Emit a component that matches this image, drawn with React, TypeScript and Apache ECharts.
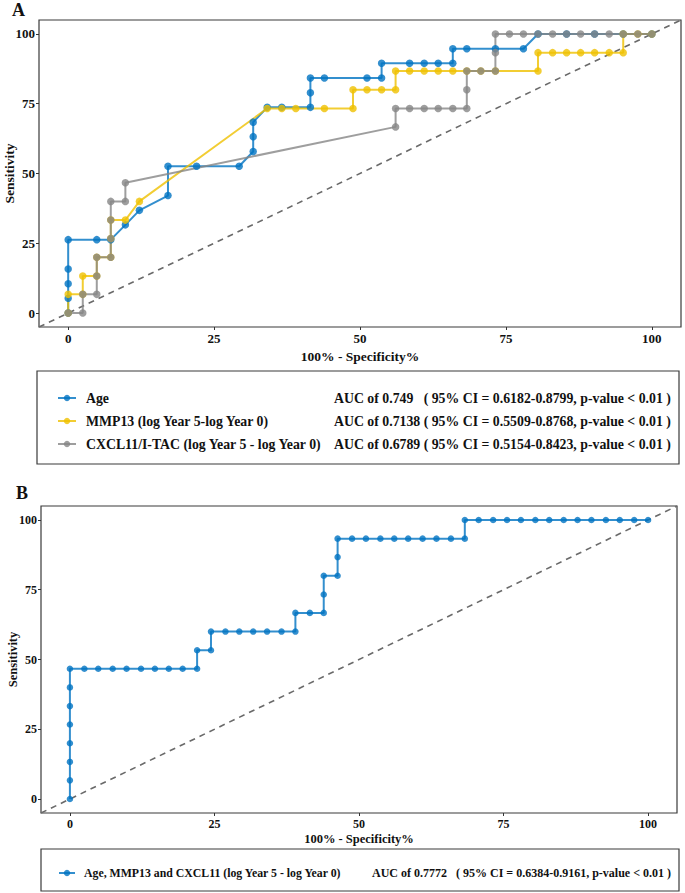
import React, { useEffect, useRef } from "react";
import * as echarts from "echarts";

// ---- Panel A data (100% - Specificity%, Sensitivity) ----
const ageX = [0, 0, 0, 0, 0, 4.9, 7.3, 9.8, 12.2, 17.1, 17.1, 22.0, 29.3, 31.7, 31.7, 31.7, 34.1, 36.6, 41.5, 41.5, 41.5, 43.9, 51.2, 53.7, 53.7, 58.5, 61.0, 63.4, 65.9, 65.9, 68.3, 73.2, 78.0, 80.5, 85.4, 90.2, 95.1, 100];
const ageY = [0, 5.3, 10.5, 15.8, 26.3, 26.3, 26.3, 31.6, 36.8, 42.1, 52.6, 52.6, 52.6, 57.9, 63.2, 68.4, 73.7, 73.7, 73.7, 78.9, 84.2, 84.2, 84.2, 84.2, 89.5, 89.5, 89.5, 89.5, 89.5, 94.7, 94.7, 94.7, 94.7, 100, 100, 100, 100, 100];

const mmpX = [0, 0, 2.5, 2.5, 4.9, 4.9, 7.3, 7.3, 7.3, 9.8, 12.2, 34.1, 36.6, 39.0, 43.9, 48.8, 48.8, 51.2, 53.7, 56.1, 56.1, 58.5, 61.0, 63.4, 65.9, 68.3, 70.7, 73.2, 80.5, 80.5, 83.0, 85.4, 87.8, 90.2, 92.7, 95.1, 95.1, 97.6, 100];
const mmpY = [0, 6.7, 6.7, 13.3, 13.3, 20, 20, 26.7, 33.3, 33.3, 40, 73.3, 73.3, 73.3, 73.3, 73.3, 80, 80, 80, 80, 86.7, 86.7, 86.7, 86.7, 86.7, 86.7, 86.7, 86.7, 86.7, 93.3, 93.3, 93.3, 93.3, 93.3, 93.3, 93.3, 100, 100, 100];

const cxX = [0, 2.5, 2.5, 4.9, 4.9, 4.9, 7.3, 7.3, 7.3, 7.3, 9.8, 9.8, 56.1, 56.1, 58.5, 61.0, 63.4, 65.9, 68.3, 68.3, 68.3, 70.7, 73.2, 73.2, 73.2, 75.6, 78.0, 80.5, 83.0, 85.4, 87.8, 90.2, 92.7, 95.1, 97.6, 100];
const cxY = [0, 0, 6.7, 6.7, 13.3, 20, 20, 26.7, 33.3, 40, 40, 46.7, 66.7, 73.3, 73.3, 73.3, 73.3, 73.3, 73.3, 80, 86.7, 86.7, 86.7, 93.3, 100, 100, 100, 100, 100, 100, 100, 100, 100, 100, 100, 100];

// ---- Panel B data ----
const combX = [0, 0, 0, 0, 0, 0, 0, 0, 2.5, 4.9, 7.4, 9.8, 12.3, 14.7, 17.1, 19.5, 22.0, 22.0, 24.4, 24.4, 26.9, 29.3, 31.7, 34.1, 36.6, 39.0, 39.0, 41.5, 43.9, 43.9, 43.9, 46.3, 46.3, 46.3, 48.8, 51.2, 53.7, 56.1, 58.5, 61.0, 63.4, 65.9, 68.3, 68.3, 70.7, 73.2, 75.6, 78.0, 80.5, 82.9, 85.4, 87.8, 90.2, 92.7, 95.1, 97.6, 100];
const combY = [0, 6.7, 13.3, 20, 26.7, 33.3, 40, 46.7, 46.7, 46.7, 46.7, 46.7, 46.7, 46.7, 46.7, 46.7, 46.7, 53.3, 53.3, 60, 60, 60, 60, 60, 60, 60, 66.7, 66.7, 66.7, 73.3, 80, 80, 86.7, 93.3, 93.3, 93.3, 93.3, 93.3, 93.3, 93.3, 93.3, 93.3, 93.3, 100, 100, 100, 100, 100, 100, 100, 100, 100, 100, 100, 100, 100, 100];

const tickValues = [0, 25, 50, 75, 100];

const namesA = [
  "Age",
  "MMP13 (log Year 5-log Year 0)",
  "CXCL11/I-TAC (log Year 5 - log Year 0)",
];
const nameB = "Age, MMP13 and CXCL11 (log Year 5 - log Year 0)";
const aucText: Record<string, string> = {
  "Age": "AUC of 0.749   ( 95% CI = 0.6182-0.8799, p-value < 0.01 )",
  "MMP13 (log Year 5-log Year 0)": "AUC of 0.7138 ( 95% CI = 0.5509-0.8768, p-value < 0.01 )",
  "CXCL11/I-TAC (log Year 5 - log Year 0)": "AUC of 0.6789 ( 95% CI = 0.5154-0.8423, p-value < 0.01 )",
  "Age, MMP13 and CXCL11 (log Year 5 - log Year 0)": "AUC of 0.7772   ( 95% CI = 0.6384-0.9161, p-value < 0.01 )",
};

const colors = ["#0073C2", "#EFC000", "#868686"];
const FONT = "Liberation Serif";

const zip = (xs: number[], ys: number[]) => xs.map((x, i) => [x, ys[i]]);

function makeX(gi: number, fs: number, gap: number) {
  return {
    type: "value",
    gridIndex: gi,
    min: -5,
    max: 105,
    name: "100% - Specificity%",
    nameLocation: "middle",
    nameGap: gap,
    nameMoveOverlap: false,
    nameTextStyle: { fontFamily: FONT, fontWeight: "bold", fontSize: fs + 0.5, color: "#111" },
    axisLine: { show: false, onZero: false },
    splitLine: { show: false },
    axisTick: { show: true, length: 3, lineStyle: { color: "#333", width: 1 }, customValues: tickValues },
    axisLabel: { customValues: tickValues, fontFamily: FONT, fontWeight: "bold", fontSize: fs, color: "#111", margin: 5 },
  };
}
function makeY(gi: number, fs: number, gap: number) {
  return {
    type: "value",
    gridIndex: gi,
    min: -5,
    max: 105,
    name: "Sensitivity",
    nameLocation: "middle",
    nameGap: gap,
    nameMoveOverlap: false,
    nameTextStyle: { fontFamily: FONT, fontWeight: "bold", fontSize: fs + 0.5, color: "#111" },
    axisLine: { show: false, onZero: false },
    splitLine: { show: false },
    axisTick: { show: true, length: 3, lineStyle: { color: "#333", width: 1 }, customValues: tickValues },
    axisLabel: { customValues: tickValues, fontFamily: FONT, fontWeight: "bold", fontSize: fs, color: "#111", margin: 4 },
  };
}

function curve(name: string, xs: number[], ys: number[], color: string, gi: number, size: number, lw: number) {
  return {
    name,
    type: "line",
    xAxisIndex: gi,
    yAxisIndex: gi,
    data: zip(xs, ys),
    symbol: "circle",
    symbolSize: size,
    showSymbol: true,
    lineStyle: { color, width: lw, opacity: 0.8 },
    itemStyle: { color, opacity: 0.8 },
    emphasis: { disabled: true },
    z: 3,
  };
}

function diag(gi: number) {
  return {
    type: "line",
    xAxisIndex: gi,
    yAxisIndex: gi,
    data: [[-5, -5], [105, 105]],
    symbol: "none",
    silent: true,
    lineStyle: { color: "#6a6a6a", width: 1.6, type: [6, 5] },
    z: 2,
  };
}

export default function App() {
  const ref = useRef<HTMLDivElement>(null);
  useEffect(() => {
    if (!ref.current) return;
    const chart = echarts.init(ref.current, undefined, { renderer: "svg" });
    const option: any = {
      animation: false,
      backgroundColor: "#ffffff",
      textStyle: { fontFamily: FONT },
      grid: [
        { left: 39, top: 20, width: 642, height: 307, show: true, containLabel: false, outerBoundsMode: "none", borderColor: "#3a3a3a", borderWidth: 1.2, backgroundColor: "transparent" },
        { left: 41, top: 506, width: 636, height: 307, show: true, containLabel: false, outerBoundsMode: "none", borderColor: "#3a3a3a", borderWidth: 1.2, backgroundColor: "transparent" },
      ],
      xAxis: [makeX(0, 13, 22), makeX(1, 12, 19)],
      yAxis: [makeY(0, 13, 23), makeY(1, 12, 22)],
      legend: [
        {
          data: namesA,
          orient: "vertical",
          left: 57,
          top: 391,
          padding: 0,
          itemGap: 9,
          itemWidth: 18,
          itemHeight: 8,
          selectedMode: false,
          formatter: (n: string) => `{n|${n}}{a|${aucText[n]}}`,
          textStyle: {
            fontFamily: FONT,
            fontWeight: "bold",
            fontSize: 13.8,
            color: "#111",
            rich: {
              n: { width: 248, padding: [0, 0, 0, 5], fontFamily: FONT, fontWeight: "bold", fontSize: 13.8, lineHeight: 16, color: "#111" },
              a: { fontFamily: FONT, fontWeight: "bold", fontSize: 13.8, lineHeight: 16, color: "#111" },
            },
          },
        },
        {
          data: [nameB],
          orient: "vertical",
          left: 58,
          top: 867,
          padding: 0,
          itemWidth: 16,
          itemHeight: 8,
          selectedMode: false,
          formatter: (n: string) => `{n|${n}}{a|${aucText[n]}}`,
          textStyle: {
            fontFamily: FONT,
            fontWeight: "bold",
            fontSize: 12,
            color: "#111",
            rich: {
              n: { width: 288, padding: [0, 0, 0, 4], fontFamily: FONT, fontWeight: "bold", fontSize: 11.8, lineHeight: 15, color: "#111" },
              a: { fontFamily: FONT, fontWeight: "bold", fontSize: 12, lineHeight: 15, color: "#111" },
            },
          },
        },
      ],
      graphic: [
        { type: "text", left: 12, top: 1, style: { text: "A", font: `bold 18px "${FONT}"`, fill: "#111" } },
        { type: "text", left: 16, top: 484, style: { text: "B", font: `bold 18px "${FONT}"`, fill: "#111" } },
        { type: "rect", shape: { x: 37, y: 371, width: 642, height: 93 }, style: { fill: "none", stroke: "#3a3a3a", lineWidth: 1.2 }, silent: true },
        { type: "rect", shape: { x: 41, y: 849, width: 638, height: 42 }, style: { fill: "none", stroke: "#3a3a3a", lineWidth: 1.2 }, silent: true },
      ],
      series: [
        diag(0),
        curve(namesA[0], ageX, ageY, colors[0], 0, 7.5, 2),
        curve(namesA[1], mmpX, mmpY, colors[1], 0, 7.5, 2),
        curve(namesA[2], cxX, cxY, colors[2], 0, 7.5, 2),
        diag(1),
        curve(nameB, combX, combY, colors[0], 1, 6.5, 2),
      ],
    };
    chart.setOption(option);
    return () => chart.dispose();
  }, []);
  return <div ref={ref} style={{ position: "absolute", left: 0, top: 0, width: 685, height: 893 }} />;
}
